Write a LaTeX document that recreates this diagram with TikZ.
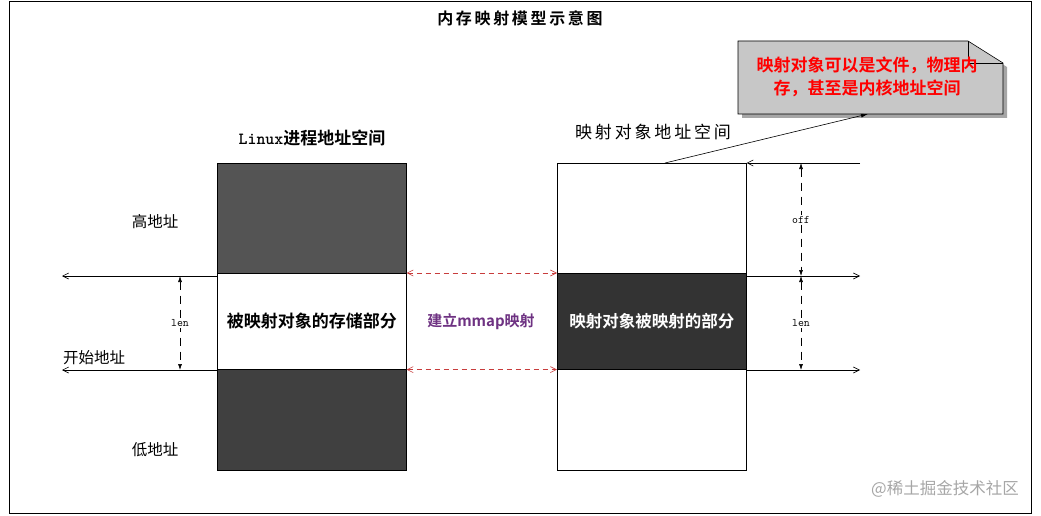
\documentclass[tikz,border=0pt]{standalone}
\usepackage{fontspec}
\setmainfont{Liberation Serif}
\newfontfamily\cjk{Noto Sans CJK SC}
\newfontfamily\cjkb{Noto Sans CJK SC Bold}
\usetikzlibrary{arrows.meta}
\definecolor{mred}{RGB}{200,60,60}
\definecolor{mpurple}{RGB}{110,50,130}
\begin{document}
\begin{tikzpicture}[x=1pt,y=-1pt,
  blk/.style={draw=black,line width=0.6pt,minimum width=189pt,anchor=north west,inner sep=0pt},
  arr/.style={-{Straight Barb[length=6pt,width=6pt]},line width=0.6pt},
  dim/.style={{Latex[length=6pt,width=4pt]}-{Latex[length=6pt,width=4pt]},dashed,dash pattern=on 8pt off 6pt,line width=0.6pt},
  map/.style={{Straight Barb[length=6pt,width=6pt]}-{Straight Barb[length=6pt,width=6pt]},draw=mred,dash pattern=on 5pt off 4pt,line width=0.6pt},
  lbl/.style={font=\cjk\fontsize{15.5}{18}\selectfont},
  tiny/.style={font=\ttfamily\fontsize{11.5}{13}\selectfont,fill=white,inner sep=1pt}]
\useasboundingbox (0,0) rectangle (1041,516);
\draw[line width=0.6pt] (9,1) rectangle (1031,513);
\node (title) at (520,18) {\cjkb\fontsize{16}{18}\selectfont 内\,存\,映\,射\,模\,型\,示\,意\,图};
% left column
\node[blk,fill=black!67,minimum height=110pt] (lt) at (217,163) {};
\node[blk,fill=white,minimum height=96pt,font=\cjkb\fontsize{17}{19}\selectfont] (lm) at (217,273) {被映射对象的存储部分};
\node[blk,fill=black!75,minimum height=101pt] (lb) at (217,369) {};
% right column
\node[blk,fill=white,minimum height=110pt] (rt) at (557,163) {};
\node[blk,fill=black!80,minimum height=96pt,text=white,font=\cjkb\fontsize{16.5}{19}\selectfont] (rm) at (557,273) {映射对象被映射的部分};
\node[blk,fill=white,minimum height=101pt] (rb) at (557,369) {};
\node (lh) at (312,138) {\fontsize{17}{19}\selectfont\texttt{\bfseries Linux}{\cjkb 进程地址空间}};
\node[font=\cjk\fontsize{17}{19}\selectfont] (rh) at (653,132) {映\,射\,对\,象\,地\,址\,空\,间};
\node[lbl] (hi) at (155,222) {高地址};
\node[lbl] (lo) at (155,450) {低地址};
\node[lbl] (st) at (94,358) {开始地址};
\node[text=mpurple,font=\cjkb\fontsize{15}{18}\selectfont] (mm) at (481,322) {建立mmap映射};
% left arrows
\coordinate (la1) at (62,276); \coordinate (la2) at (62,370);
\draw[arr] (217,276) -- (la1);
\draw[arr] (217,370) -- (la2);
\coordinate (d1) at (180,276); \coordinate (d2) at (180,370);
\draw[dim] (d1) -- (d2) node[midway,tiny] {len};
% mapping arrows
\draw[map] (lm.north east) -- (rm.north west);
\draw[map] (lm.south east) -- (rm.south west);
% right arrows
\coordinate (ra0) at (860,163); \coordinate (ra1) at (860,276); \coordinate (ra2) at (860,370);
\draw[arr] (ra0) -- (rt.north east);
\draw[arr] (746,276) -- (ra1);
\draw[arr] (746,370) -- (ra2);
\coordinate (e0) at (801,163); \coordinate (e1) at (801,276); \coordinate (e2) at (801,370);
\draw[dim] (e0) -- (e1) node[midway,tiny] {off};
\draw[dim] (e1) -- (e2) node[midway,tiny] {len};
% callout
\fill[black!35] (742,45) -- (972,45) -- (1007,67) -- (1007,118) -- (742,118) -- cycle;
\draw[fill=black!22,line width=0.6pt] (738,41) -- (968,41) -- (1003,63) -- (1003,114) -- (738,114) -- cycle;
\draw[line width=0.6pt] (968,41) -- (968,63) -- (1003,63);
\node[text=red,font=\cjkb\fontsize{17}{23}\selectfont,align=center] (note) at (867,77) {映射对象可以是文件，物理内\\存，甚至是内核地址空间};
\coordinate (tip) at (868,114);
\draw[arr,-{Latex[length=7pt,width=4pt]}] (665,163) -- (tip);
\node[text=black!35,font=\cjk\fontsize{16.5}{18}\selectfont] (wm) at (945,489) {@稀土掘金技术社区};
\end{tikzpicture}
\end{document}
